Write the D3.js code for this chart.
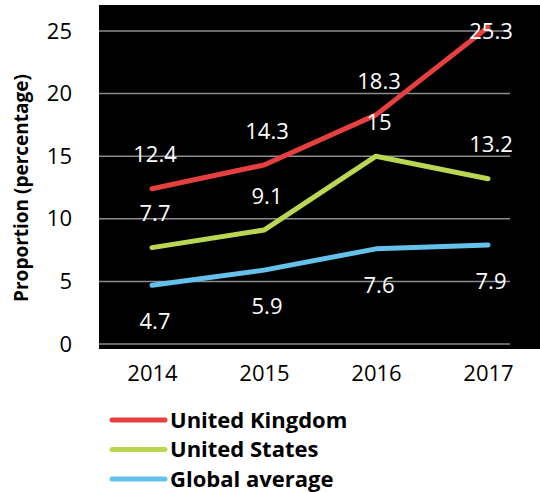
<!DOCTYPE html>
<html lang="en">
<head>
<meta charset="UTF-8">
<title>Proportion chart</title>
<style>
  body { margin: 0; background: #fff; }
  svg text { font-family: "Open Sans", sans-serif; }
</style>
</head>
<body>
<svg></svg>
<script src="https://d3js.org/d3.v7.min.js"></script>
<script>
// data
var years = ["2014", "2015", "2016", "2017"];
var ukValues = [12.4, 14.3, 18.3, 25.3];
var usValues = [7.7, 9.1, 15, 13.2];
var globalValues = [4.7, 5.9, 7.6, 7.9];
var yTicks = [0, 5, 10, 15, 20, 25];
var seriesNames = ["United Kingdom", "United States", "Global average"];

var svgWidth = 540, svgHeight = 492;
var svg = d3.select("svg").attr("width", svgWidth).attr("height", svgHeight);

var series = [
  { name: seriesNames[0], values: ukValues, color: "#e5403f", labelPos: "above" },
  { name: seriesNames[1], values: usValues, color: "#bad653", labelPos: "above" },
  { name: seriesNames[2], values: globalValues, color: "#63c1ea", labelPos: "below" }
];

var x = d3.scalePoint().domain(years).range([96, 544]).padding(0.5);
var y = d3.scaleLinear().domain([0, 25]).range([344, 31]);

// black plot area
svg.append("rect")
  .attr("x", 99).attr("y", 5)
  .attr("width", 441).attr("height", 344)
  .attr("fill", "#000");

// gridlines
svg.append("g").selectAll("line")
  .data(yTicks)
  .enter().append("line")
  .attr("x1", 99).attr("x2", 510)
  .attr("y1", function(d) { return y(d); })
  .attr("y2", function(d) { return y(d); })
  .attr("stroke", "#8c8c8c")
  .attr("stroke-width", 1.5);

// y axis
var yAxis = svg.append("g")
  .attr("transform", "translate(99,0)")
  .call(d3.axisLeft(y).tickValues(yTicks).tickSize(0).tickPadding(27));
yAxis.select(".domain").remove();
yAxis.selectAll("text").attr("font-size", 22).attr("fill", "#000")
  .attr("font-family", "Open Sans, sans-serif");

// x axis
var xAxis = svg.append("g")
  .attr("transform", "translate(0,348)")
  .call(d3.axisBottom(x).tickSize(0).tickPadding(17));
xAxis.select(".domain").remove();
xAxis.selectAll("text").attr("font-size", 22).attr("fill", "#000")
  .attr("font-family", "Open Sans, sans-serif");

// y title
svg.append("text")
  .attr("transform", "translate(28,188) rotate(-90)")
  .attr("text-anchor", "middle")
  .attr("font-size", 19)
  .attr("font-weight", "bold")
  .text("Proportion (percentage)");

var line = d3.line()
  .x(function(d, i) { return x(years[i]); })
  .y(function(d) { return y(d); });

series.forEach(function(s) {
  svg.append("path")
    .datum(s.values)
    .attr("fill", "none")
    .attr("stroke", s.color)
    .attr("stroke-width", 5)
    .attr("stroke-linejoin", "round")
    .attr("stroke-linecap", "round")
    .attr("d", line);
});

// value labels
series.forEach(function(s) {
  svg.append("g").selectAll("text")
    .data(s.values)
    .enter().append("text")
    .attr("x", function(d, i) { return x(years[i]) + 3; })
    .attr("y", function(d) {
      var py = y(d);
      var ly = s.labelPos === "above" ? py - 34 : py + 36;
      return Math.max(ly, 31);
    })
    .attr("dy", "0.35em")
    .attr("text-anchor", "middle")
    .attr("font-size", 22)
    .attr("fill", "#fff")
    .text(function(d) { return d; });
});

// legend
var legend = svg.append("g").selectAll("g")
  .data(series)
  .enter().append("g")
  .attr("transform", function(d, i) { return "translate(0," + (420 + i * 29.5) + ")"; });
legend.append("line")
  .attr("x1", 112).attr("x2", 165)
  .attr("stroke", function(d) { return d.color; })
  .attr("stroke-width", 5)
  .attr("stroke-linecap", "round");
legend.append("text")
  .attr("x", 170)
  .attr("dy", "0.35em")
  .attr("font-size", 22)
  .attr("font-weight", "bold")
  .text(function(d) { return d.name; });
</script>
</body>
</html>
